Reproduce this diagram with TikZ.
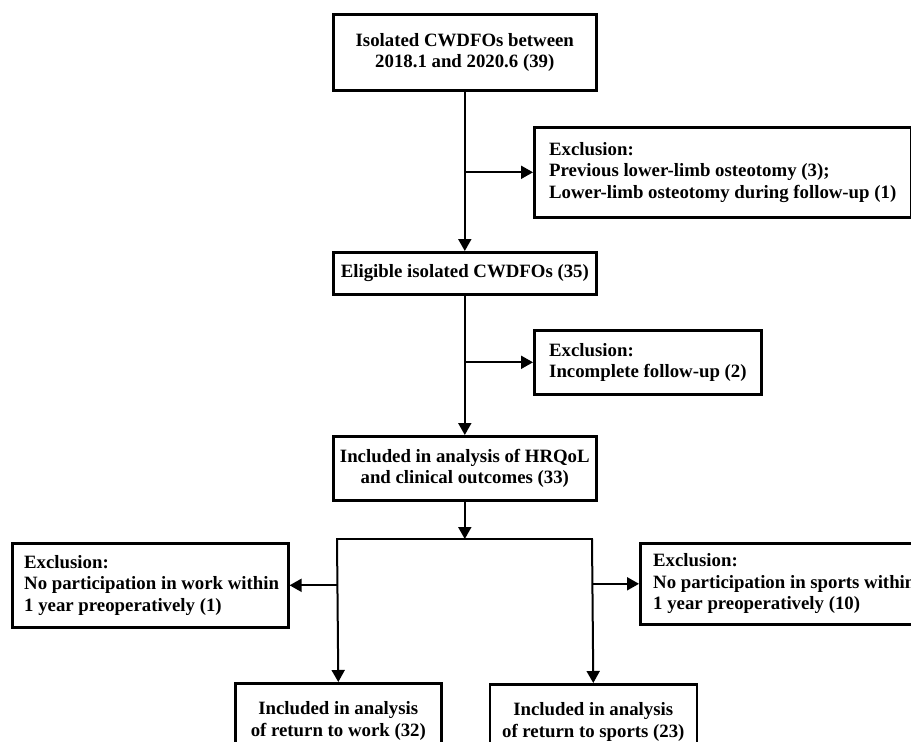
\documentclass[tikz,border=0pt]{standalone}
\usepackage{fontspec}
\setmainfont{Liberation Serif}
\usetikzlibrary{arrows.meta}
\tikzset{
  box/.style={draw=black, line width=2.6pt, fill=white, inner sep=0pt},
  txt/.style={font=\fontsize{18.8}{21.5}\selectfont\bfseries, inner sep=0pt},
  ctxt/.style={txt, align=center},
  ltxt/.style={txt, align=left, anchor=west},
  conn/.style={line width=2pt},
  arr/.style={conn, -{Triangle[length=12pt,width=13pt]}},
}
\begin{document}
\begin{tikzpicture}[x=1pt,y=-1pt]
\useasboundingbox (0,0) rectangle (911,742);
\fill[white] (0,0) rectangle (911,742);
\clip (0,0) rectangle (911,742);

% main column
\node[box, ctxt, minimum width=263pt, minimum height=76pt, anchor=north west] (b1) at (332,13)
  {Isolated CWDFOs between\\2018.1 and 2020.6 (39)};
\node[box, ctxt, minimum width=263pt, minimum height=42pt, anchor=north west] (b2) at (332,251)
  {Eligible isolated CWDFOs (35)};
\node[box, ctxt, minimum width=263pt, minimum height=64pt, anchor=north west] (b3) at (332,435)
  {Included in analysis of HRQoL\\and clinical outcomes (33)};

% exclusion boxes
\node[box, minimum width=377pt, minimum height=90pt, anchor=north west] (ea) at (533,126) {};
\node[ltxt] (eat) at ([xshift=16pt]ea.west)
  {Exclusion:\\Previous lower-limb osteotomy (3);\\Lower-limb osteotomy during follow-up (1)};
\node[box, minimum width=227pt, minimum height=64pt, anchor=north west] (eb) at (533,329) {};
\node[ltxt] (ebt) at ([xshift=16pt]eb.west)
  {Exclusion:\\Incomplete follow-up (2)};
\node[box, minimum width=276pt, minimum height=84pt, anchor=north west] (el) at (11,542) {};
\node[ltxt] (elt) at ([xshift=13pt]el.west)
  {Exclusion:\\No participation in work within\\1 year preoperatively (1)};
\node[box, minimum width=320pt, minimum height=81pt, anchor=north west] (er) at (639,542) {};
\node[ltxt] (ert) at ([xshift=14pt]er.west)
  {Exclusion:\\No participation in sports within\\1 year preoperatively (10)};

% bottom boxes
\node[box, ctxt, minimum width=206pt, minimum height=75pt, anchor=north west] (bl) at (234,682)
  {Included in analysis\\of return to work (32)};
\node[box, ctxt, minimum width=207pt, minimum height=75pt, anchor=north west] (br) at (488.5,683)
  {Included in analysis\\of return to sports (23)};

% split coordinates
\coordinate (sl) at (337,539);
\coordinate (sr) at (592,539);

% connectors
\draw[arr] (b1.south) -- (b2.north);
\draw[arr] (b1.south |- ea.west) -- (ea.west);
\draw[arr] (b2.south) -- (b3.north);
\draw[arr] (b2.south |- eb.west) -- (eb.west);
\draw[arr] (b3.south) -- (b3.south |- sl);
\draw[conn] ([xshift=-1pt]sl) -- ([xshift=1pt]sr);
\draw[arr] (sl) -- (bl.north);
\draw[arr] (sr) -- (br.north);
\draw[arr] (sl |- el.east) -- (el.east);
\draw[arr] (sr |- er.west) -- (er.west);
\end{tikzpicture}
\end{document}
